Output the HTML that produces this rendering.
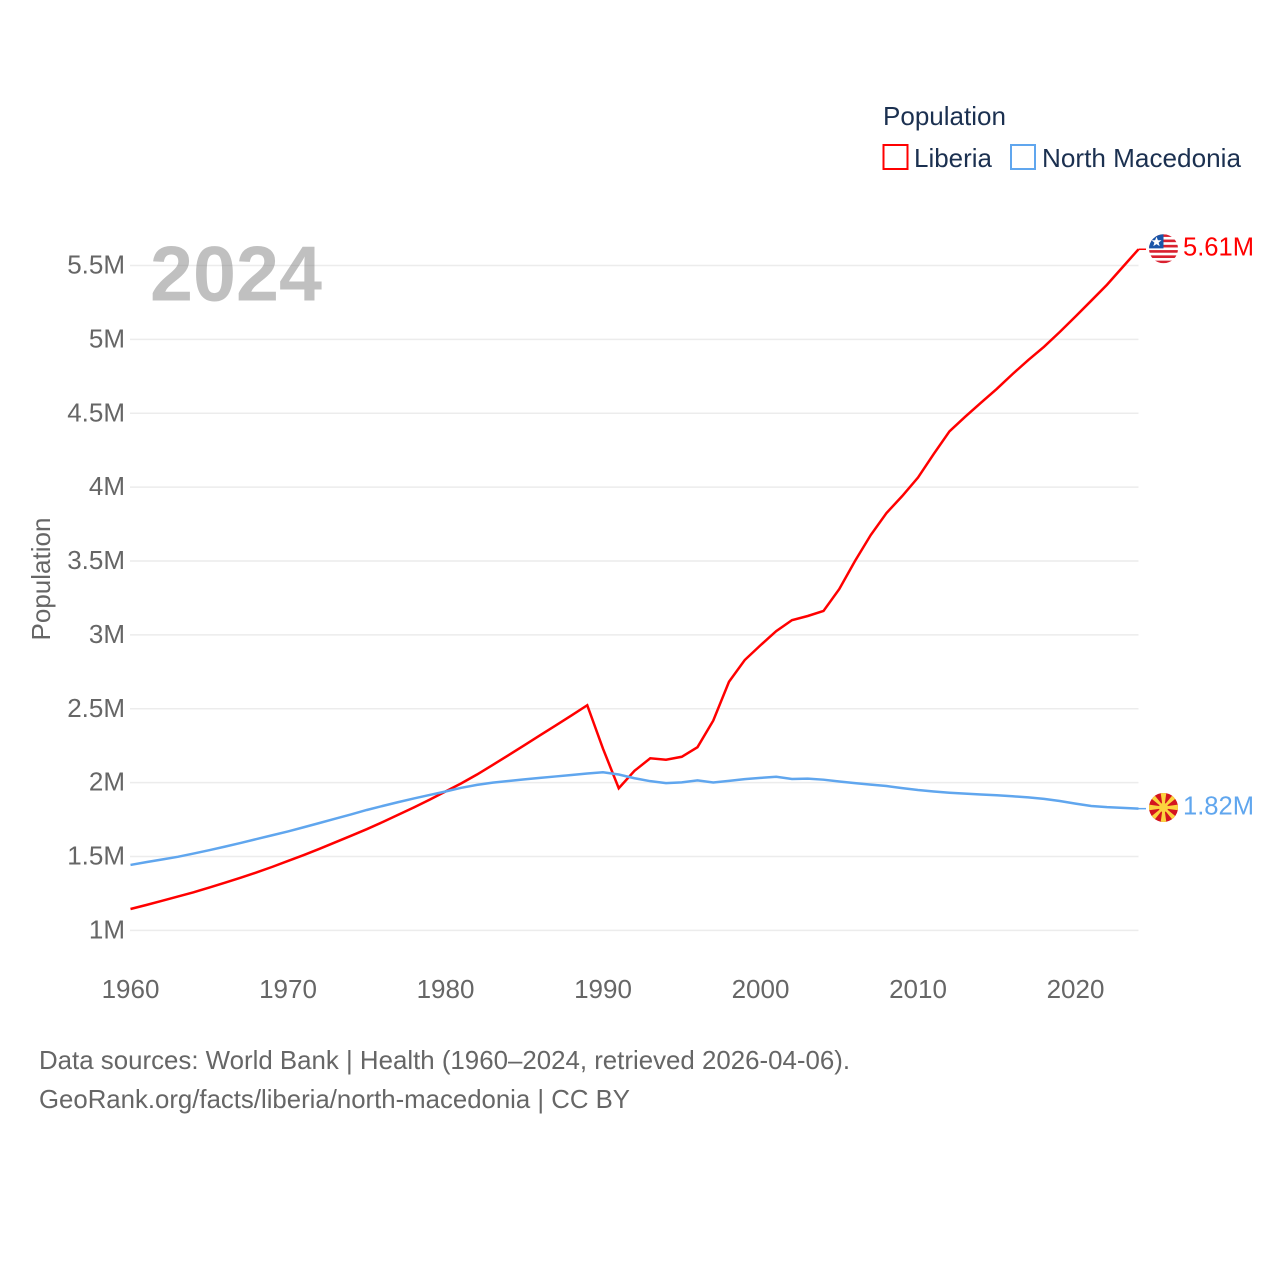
<!DOCTYPE html>
<html lang="en">
<head>
<meta charset="utf-8">
<title>Population: Liberia and North Macedonia</title>
<style>
html,body{margin:0;padding:0;background:#fff;}
svg{display:block;}
text{font-family:"Liberation Sans",sans-serif;}
</style>
</head>
<body>
<svg id="chart" xmlns="http://www.w3.org/2000/svg" width="1280" height="1280" viewBox="0 0 1280 1280">
  <rect x="0" y="0" width="1280" height="1280" fill="#fff"/>

  <g>
    <text x="883" y="125" font-size="26" fill="#1b3050" textLength="123" lengthAdjust="spacingAndGlyphs">Population</text>
    <g>
      <rect x="883.5" y="145" width="24" height="24" fill="none" stroke="#ff0000" stroke-width="2"/>
      <text x="914" y="167" font-size="26" fill="#1b3050" textLength="78" lengthAdjust="spacingAndGlyphs">Liberia</text>
    </g>
    <g>
      <rect x="1011" y="145" width="24" height="24" fill="none" stroke="#60a6ee" stroke-width="2"/>
      <text x="1042" y="167" font-size="26" fill="#1b3050" textLength="199" lengthAdjust="spacingAndGlyphs">North Macedonia</text>
    </g>
  </g>

  <g id="grid"></g>
  <g id="y-ticks"></g>
  <g id="x-ticks"></g>

  <text x="150" y="300.5" font-size="78" font-weight="700" fill="#828282" opacity="0.5" textLength="172" lengthAdjust="spacingAndGlyphs">2024</text>
  <text transform="translate(50,579) rotate(-90)" text-anchor="middle" font-size="26" fill="#666666" textLength="123" lengthAdjust="spacingAndGlyphs">Population</text>

  <g id="series"></g>

  <defs>
    <clipPath id="flag-clip"><circle cx="0" cy="0" r="14.5"/></clipPath>
  </defs>

  <g id="flag-liberia">
    <g clip-path="url(#flag-clip)">
      <rect x="-15" y="-15" width="30" height="30" fill="#ffffff"/>
      <rect x="-15" y="-14.5" width="30" height="2.64" fill="#d9202f"/>
      <rect x="-15" y="-9.23" width="30" height="2.64" fill="#d9202f"/>
      <rect x="-15" y="-3.95" width="30" height="2.64" fill="#d9202f"/>
      <rect x="-15" y="1.32" width="30" height="2.64" fill="#d9202f"/>
      <rect x="-15" y="6.59" width="30" height="2.64" fill="#d9202f"/>
      <rect x="-15" y="11.86" width="30" height="2.64" fill="#d9202f"/>
      <rect x="-15" y="-15" width="15" height="14.6" fill="#1a55a8"/>
      <polygon points="-7,-12 -5.6,-8.5 -2,-8.5 -4.9,-6.2 -3.8,-2.6 -7,-4.7 -10.2,-2.6 -9.1,-6.2 -12,-8.5 -8.4,-8.5" fill="#ffffff"/>
    </g>
  </g>

  <g id="flag-macedonia">
    <g clip-path="url(#flag-clip)">
      <rect x="-15" y="-15" width="30" height="30" fill="#d4141f"/>
      <g fill="#fbd33e">
        <polygon points="-0.8,0 0.8,0 3,-16 -3,-16"/>
        <polygon points="-0.8,0 0.8,0 3,16 -3,16"/>
        <polygon points="0,-0.8 0,0.8 -16,3 -16,-3"/>
        <polygon points="0,-0.8 0,0.8 16,3 16,-3"/>
        <polygon points="-0.8,0 0.8,0 2.6,-18 -2.6,-18" transform="rotate(45)"/>
        <polygon points="-0.8,0 0.8,0 2.6,-18 -2.6,-18" transform="rotate(135)"/>
        <polygon points="-0.8,0 0.8,0 2.6,-18 -2.6,-18" transform="rotate(225)"/>
        <polygon points="-0.8,0 0.8,0 2.6,-18 -2.6,-18" transform="rotate(315)"/>
        <circle cx="0" cy="0" r="4.6"/>
      </g>
    </g>
  </g>

  <g id="end-labels"></g>

  <g>
    <text x="39" y="1069" font-size="26" fill="#666666" textLength="811" lengthAdjust="spacingAndGlyphs">Data sources: World Bank | Health (1960–2024, retrieved 2026-04-06).</text>
    <text x="39" y="1108" font-size="26" fill="#666666" textLength="591" lengthAdjust="spacingAndGlyphs">GeoRank.org/facts/liberia/north-macedonia | CC BY</text>
  </g>
</svg>

<script>
const firstYear = 1960;
const yTickValues = [1, 1.5, 2, 2.5, 3, 3.5, 4, 4.5, 5, 5.5];
const yTickLabels = ["1M", "1.5M", "2M", "2.5M", "3M", "3.5M", "4M", "4.5M", "5M", "5.5M"];
const xTickYears = [1960, 1970, 1980, 1990, 2000, 2010, 2020];
const xTickLabels = ["1960", "1970", "1980", "1990", "2000", "2010", "2020"];

const liberiaValues = [
  1.145, 1.172, 1.200, 1.229, 1.258, 1.290, 1.323, 1.357, 1.392, 1.430,
  1.470, 1.510, 1.552, 1.596, 1.640, 1.685, 1.733, 1.783, 1.833, 1.885,
  1.940, 1.995, 2.055, 2.120, 2.186, 2.253, 2.320, 2.387, 2.455, 2.524,
  2.230, 1.962, 2.080, 2.165, 2.155, 2.175, 2.240, 2.420, 2.683, 2.830,
  2.930, 3.026, 3.100, 3.128, 3.162, 3.310, 3.500, 3.676, 3.825, 3.940,
  4.065, 4.225, 4.378, 4.477, 4.572, 4.665, 4.765, 4.860, 4.950, 5.050,
  5.155, 5.262, 5.370, 5.490, 5.610
];
const macedoniaValues = [
  1.443, 1.462, 1.480, 1.498, 1.520, 1.543, 1.567, 1.592, 1.618, 1.644,
  1.670, 1.698, 1.727, 1.756, 1.785, 1.815, 1.842, 1.868, 1.893, 1.917,
  1.940, 1.965, 1.985, 2.000, 2.011, 2.022, 2.032, 2.042, 2.052, 2.062,
  2.070, 2.055, 2.030, 2.010, 1.997, 2.002, 2.015, 2.001, 2.012, 2.024,
  2.032, 2.040, 2.025, 2.027, 2.020, 2.008, 1.997, 1.987, 1.977, 1.963,
  1.950, 1.940, 1.932, 1.926, 1.920, 1.915, 1.908, 1.900, 1.890, 1.876,
  1.858, 1.842, 1.834, 1.829, 1.824
];
const endValueLabels = ["5.61M", "1.82M"];

const SVG_NS = "http://www.w3.org/2000/svg";
function xScale(year) { return 130.5 + (year - 1960) * 15.75; }
function yScale(v) { return 930.4 - (v - 1) * 147.75; }
function make(tag, parent) {
  const el = document.createElementNS(SVG_NS, tag);
  parent.appendChild(el);
  return el;
}

const grid = document.getElementById("grid");
const yTicks = document.getElementById("y-ticks");
const xTicks = document.getElementById("x-ticks");
const series = document.getElementById("series");
const endLabels = document.getElementById("end-labels");

yTickValues.forEach(function (v, i) {
  const line = make("line", grid);
  
  
  line.setAttribute("x1", 130);
  line.setAttribute("x2", xScale(2024));
  line.setAttribute("y1", yScale(v));
  line.setAttribute("y2", yScale(v));
  line.setAttribute("stroke", "#ececec");
  line.setAttribute("stroke-width", "1.5");
  const label = make("text", yTicks);
  
  
  label.setAttribute("x", 125);
  label.setAttribute("y", yScale(v) + 8);
  label.setAttribute("text-anchor", "end");
  label.setAttribute("font-size", "26");
  label.setAttribute("fill", "#666666");
  label.textContent = yTickLabels[i];
});

xTickYears.forEach(function (year, i) {
  const label = make("text", xTicks);
  
  
  label.setAttribute("x", xScale(year));
  label.setAttribute("y", 998);
  label.setAttribute("text-anchor", "middle");
  label.setAttribute("font-size", "26");
  label.setAttribute("fill", "#666666");
  label.textContent = xTickLabels[i];
});

function linePoints(values) {
  return values.map(function (v, i) {
    return xScale(firstYear + i).toFixed(2) + "," + yScale(v).toFixed(2);
  }).join(" ");
}

const liberiaLine = make("polyline", series);


liberiaLine.setAttribute("points", linePoints(liberiaValues));
liberiaLine.setAttribute("fill", "none");
liberiaLine.setAttribute("stroke", "#ff0000");
liberiaLine.setAttribute("stroke-width", "2.5");

const macedoniaLine = make("polyline", series);


macedoniaLine.setAttribute("points", linePoints(macedoniaValues));
macedoniaLine.setAttribute("fill", "none");
macedoniaLine.setAttribute("stroke", "#60a6ee");
macedoniaLine.setAttribute("stroke-width", "2.5");

const liberiaLast = yScale(liberiaValues[liberiaValues.length - 1]);
const macedoniaLast = yScale(macedoniaValues[macedoniaValues.length - 1]);

const liberiaLeader = make("line", series);


liberiaLeader.setAttribute("x1", xScale(2024));
liberiaLeader.setAttribute("x2", 1146);
liberiaLeader.setAttribute("y1", liberiaLast);
liberiaLeader.setAttribute("y2", liberiaLast);
liberiaLeader.setAttribute("stroke", "#ff0000");
liberiaLeader.setAttribute("stroke-width", "1.5");

const macedoniaLeader = make("line", series);


macedoniaLeader.setAttribute("x1", xScale(2024));
macedoniaLeader.setAttribute("x2", 1146);
macedoniaLeader.setAttribute("y1", macedoniaLast);
macedoniaLeader.setAttribute("y2", macedoniaLast);
macedoniaLeader.setAttribute("stroke", "#60a6ee");
macedoniaLeader.setAttribute("stroke-width", "1.5");

document.getElementById("flag-liberia").setAttribute("transform", "translate(1163.5," + (liberiaLast - 0.5) + ")");
document.getElementById("flag-macedonia").setAttribute("transform", "translate(1163.5," + (macedoniaLast - 1.2) + ")");

const liberiaEnd = make("text", endLabels);


liberiaEnd.setAttribute("x", 1183);
liberiaEnd.setAttribute("y", liberiaLast + 6);
liberiaEnd.setAttribute("font-size", "26");
liberiaEnd.setAttribute("fill", "#ff0000");
liberiaEnd.setAttribute("textLength", "71");
liberiaEnd.setAttribute("lengthAdjust", "spacingAndGlyphs");
liberiaEnd.textContent = endValueLabels[0];

const macedoniaEnd = make("text", endLabels);


macedoniaEnd.setAttribute("x", 1183);
macedoniaEnd.setAttribute("y", macedoniaLast + 6);
macedoniaEnd.setAttribute("font-size", "26");
macedoniaEnd.setAttribute("fill", "#60a6ee");
macedoniaEnd.setAttribute("textLength", "71");
macedoniaEnd.setAttribute("lengthAdjust", "spacingAndGlyphs");
macedoniaEnd.textContent = endValueLabels[1];
</script>
</body>
</html>
